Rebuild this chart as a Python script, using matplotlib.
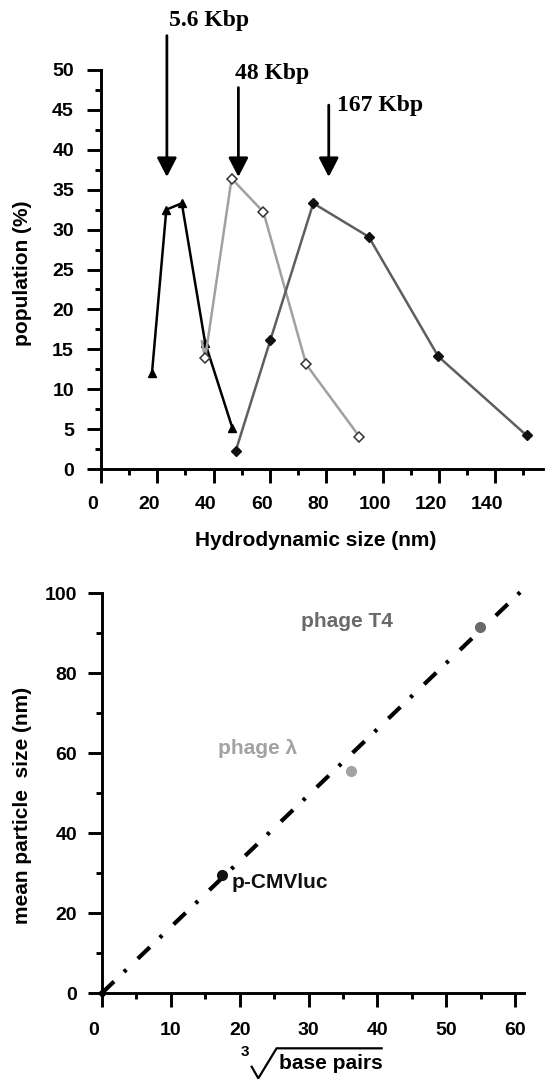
import matplotlib
matplotlib.use('Agg')
import matplotlib.pyplot as plt
import matplotlib.transforms as mtransforms
from matplotlib.ticker import MultipleLocator

# --- top panel: size distributions (hydrodynamic size nm, population %)
kbp56_size = [18.1, 23.2, 28.7, 37.0, 46.7]
kbp56_pop = [12.0, 32.5, 33.3, 15.8, 5.1]

kbp48_size = [35.8, 37.0, 46.4, 57.7, 72.9, 91.8]
kbp48_pop = [16.0, 13.9, 36.4, 32.2, 13.1, 4.05]

kbp167_size = [47.8, 60.2, 75.4, 95.1, 119.8, 151.2]
kbp167_pop = [2.2, 16.2, 33.3, 29.1, 14.1, 4.2]

arrow_labels = ['5.6 Kbp', '48 Kbp', '167 Kbp']
arrow_x = [23.4, 48.8, 80.9]
arrow_top = [54.3, 47.8, 45.6]
arrow_tip = 36.6
label_x = [24.1, 47.6, 83.8]
label_y = [56.2, 49.6, 45.6]

# --- bottom panel: cube root of base pairs vs mean particle size
sample_names = ['p-CMVluc', 'phage \u03bb', 'phage T4']
cbrt_bp = [17.4, 36.2, 54.9]
mean_size = [29.5, 55.6, 91.6]
sample_colors = ['#111111', '#a2a2a2', '#6a6a6a']
name_x = [18.8, 16.8, 28.9]
name_y = [27.6, 61.2, 92.8]

fit_x = [0, 61.6]
fit_y = [0, 101.6]

SANS = 'Liberation Sans'
SERIF = 'Liberation Serif'


def style_axes(ax):
    for side in ['top', 'right']:
        ax.spines[side].set_visible(False)
    for side in ['left', 'bottom']:
        ax.spines[side].set_linewidth(2.1)
    ax.tick_params(which='major', length=10, width=2.1, labelsize=14, pad=9.5)
    ax.tick_params(which='minor', length=4.5, width=2.1)
    for lab in ax.get_xticklabels() + ax.get_yticklabels():
        lab.set_fontweight('bold')
        lab.set_family(SANS)


def make_distribution(fig):
    ax = fig.add_axes([101 / 546, 610 / 1079, 442 / 546, 399 / 1079])
    ax.plot(kbp56_size, kbp56_pop, color='black', lw=1.8, marker='^',
            ms=6, mfc='black', mec='black', clip_on=False)
    ax.plot(kbp48_size, kbp48_pop, color='#a0a0a0', lw=1.8, marker='D',
            ms=5, mfc='white', mec='#333333', mew=1.1, markevery=list(range(1, 6)),
            clip_on=False)
    ax.plot(kbp167_size, kbp167_pop, color='#5e5e5e', lw=1.8, marker='D',
            ms=5, mfc='#111111', mec='#111111', clip_on=False)

    ax.set_xlim(0, 157)
    ax.set_ylim(0, 50)
    ax.yaxis.set_major_locator(MultipleLocator(5))
    ax.yaxis.set_minor_locator(MultipleLocator(2.5))
    ax.set_xticks(range(0, 141, 20))
    ax.set_xticks(range(10, 160, 10), minor=True)
    style_axes(ax)

    # tick labels sit a bit left of their ticks in the original
    shift = mtransforms.ScaledTranslation(-8 / 100, 0, fig.dpi_scale_trans)
    for lab in ax.get_xticklabels():
        lab.set_transform(lab.get_transform() + shift)

    for txt, x, top, lx, ly in zip(arrow_labels, arrow_x, arrow_top, label_x, label_y):
        ax.annotate('', xy=(x, arrow_tip), xytext=(x, top), annotation_clip=False,
                    arrowprops=dict(arrowstyle='-|>,head_length=0.58,head_width=0.3',
                                    mutation_scale=20, lw=2, color='black',
                                    shrinkA=0, shrinkB=0))
        ax.text(lx, ly, txt, family=SERIF, fontweight='bold', fontsize=17,
                ha='left', va='center', clip_on=False)

    ax.set_xlabel('Hydrodynamic size (nm)', family=SANS, fontweight='bold', fontsize=15)
    ax.set_ylabel('population (%)', family=SANS, fontweight='bold', fontsize=15)
    ax.xaxis.set_label_coords(0.485, -0.155)
    ax.yaxis.set_label_coords(-0.155, 0.49)
    return ax


def make_scaling(fig):
    ax = fig.add_axes([102 / 546, 86 / 1079, 422 / 546, 400 / 1079])
    ax.plot(fit_x, fit_y, color='black', lw=3, clip_on=False,
            dashes=(4.0, 3.3, 0.8, 3.8))
    ax.plot([0], [0], 'o', color='black', ms=4, clip_on=False)
    for x, y, c, name, nx, ny in zip(cbrt_bp, mean_size, sample_colors,
                                     sample_names, name_x, name_y):
        ax.plot([x], [y], 'o', color=c, ms=7, clip_on=False, zorder=3)
        ax.text(nx, ny, name, color=c, family=SANS, fontweight='bold',
                fontsize=15, ha='left', va='center')

    ax.set_xlim(0, 61.3)
    ax.set_ylim(0, 100)
    ax.set_xticks(range(0, 61, 10))
    ax.set_xticks(range(5, 61, 10), minor=True)
    ax.set_yticks(range(0, 101, 20))
    ax.set_yticks(range(10, 100, 20), minor=True)
    style_axes(ax)
    ax.tick_params(axis='y', pad=8)
    ax.tick_params(axis='x', pad=11)

    lab0 = ax.get_xticklabels()[0]
    lab0.set_transform(lab0.get_transform() +
                       mtransforms.ScaledTranslation(-8 / 100, 0, fig.dpi_scale_trans))

    # x label: cube root sign drawn by hand around "base pairs"
    ax.set_xlabel('base pairs', family=SANS, fontweight='bold', fontsize=15)
    ax.xaxis.set_label_coords(0.542, -0.152)
    ax.plot([0.3547, 0.3704, 0.4137, 0.6626], [-0.1843, -0.2133, -0.1383, -0.1383],
            color='black', lw=1.6, transform=ax.transAxes, clip_on=False,
            solid_joinstyle='miter')
    ax.text(0.3389, -0.1468, '3', family=SANS, fontweight='bold', fontsize=11,
            ha='center', va='center', transform=ax.transAxes)

    ax.set_ylabel('mean particle  size (nm)', family=SANS, fontweight='bold', fontsize=15)
    ax.yaxis.set_label_coords(-0.165, 0.47)
    return ax


if __name__ == "__main__":
    plt.rcParams['font.family'] = SANS
    plt.rcParams['font.weight'] = 'bold'

    fig = plt.figure(figsize=(5.46, 10.79), dpi=100)
    make_distribution(fig)
    make_scaling(fig)
    fig.savefig('out.png', dpi=100)
